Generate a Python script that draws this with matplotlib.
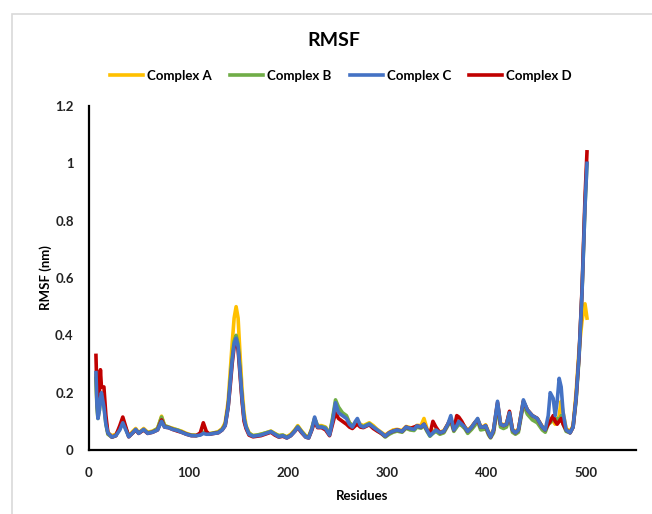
import matplotlib
matplotlib.use("Agg")
import matplotlib.pyplot as plt
from matplotlib.patches import Rectangle

plt.rcParams["font.family"] = ["Lato", "DejaVu Sans"]
plt.rcParams["font.weight"] = "bold"

residues = [7, 8, 9, 10.5, 11.5, 12.5, 15, 17, 19, 23, 27, 31, 34, 37, 40, 44, 47, 50, 55, 59,
            64, 69, 73, 76, 80, 84, 89, 93, 98, 103, 108, 112, 115, 118, 121, 126, 130, 134, 137, 140,
            142, 144, 146, 148, 150, 152, 154, 156, 158, 161, 165, 169, 173, 178, 183, 187, 191, 195, 199, 203,
            207, 210, 214, 218, 221, 224, 227, 230, 234, 238, 242, 245, 248, 251, 255, 259, 262, 265, 268, 270,
            273, 276, 282, 286, 290, 294, 298, 302, 306, 310, 315, 319, 323, 327, 330, 334, 337, 340, 343, 346,
            349, 353, 357, 361, 364, 367, 370, 372, 375, 378, 381, 385, 388, 391, 394, 397, 399, 402, 404, 407,
            411, 414, 417, 420, 423, 426, 429, 432, 435, 437, 441, 446, 451, 456, 459, 462, 464, 467, 469, 471,
            473, 475, 477, 480, 484, 487, 490, 493, 496, 499, 501]

complex_a = [0.26, 0.16, 0.12, 0.15, 0.19, 0.2, 0.17, 0.1, 0.06, 0.05, 0.055, 0.075, 0.105, 0.075, 0.05, 0.065, 0.075, 0.06, 0.075, 0.062,
             0.066, 0.075, 0.118, 0.085, 0.08, 0.076, 0.07, 0.066, 0.058, 0.052, 0.052, 0.055, 0.06, 0.058, 0.057, 0.06, 0.064, 0.075, 0.095, 0.17,
             0.27, 0.37, 0.46, 0.5, 0.46, 0.33, 0.21, 0.13, 0.085, 0.06, 0.05, 0.052, 0.055, 0.06, 0.066, 0.058, 0.05, 0.052, 0.046, 0.055,
             0.07, 0.085, 0.066, 0.05, 0.046, 0.075, 0.11, 0.085, 0.085, 0.08, 0.056, 0.105, 0.16, 0.14, 0.125, 0.115, 0.095, 0.085, 0.095, 0.1,
             0.09, 0.085, 0.095, 0.085, 0.072, 0.062, 0.052, 0.062, 0.07, 0.072, 0.068, 0.082, 0.078, 0.075, 0.086, 0.085, 0.11, 0.075, 0.055, 0.065,
             0.072, 0.062, 0.068, 0.09, 0.11, 0.075, 0.09, 0.1, 0.095, 0.082, 0.068, 0.082, 0.095, 0.108, 0.082, 0.082, 0.088, 0.062, 0.05, 0.072,
             0.16, 0.092, 0.088, 0.092, 0.13, 0.072, 0.065, 0.072, 0.13, 0.17, 0.14, 0.12, 0.11, 0.082, 0.072, 0.1, 0.11, 0.1, 0.09, 0.1,
             0.12, 0.17, 0.13, 0.075, 0.065, 0.085, 0.2, 0.35, 0.45, 0.51, 0.46]

complex_b = [0.25, 0.15, 0.11, 0.14, 0.18, 0.19, 0.16, 0.09, 0.055, 0.045, 0.05, 0.075, 0.105, 0.075, 0.048, 0.06, 0.07, 0.06, 0.07, 0.06,
             0.064, 0.075, 0.115, 0.085, 0.08, 0.074, 0.07, 0.064, 0.056, 0.052, 0.05, 0.054, 0.062, 0.06, 0.056, 0.06, 0.062, 0.072, 0.09, 0.155,
             0.24, 0.32, 0.38, 0.4, 0.37, 0.28, 0.18, 0.11, 0.08, 0.058, 0.05, 0.052, 0.055, 0.06, 0.065, 0.056, 0.05, 0.052, 0.045, 0.052,
             0.068, 0.082, 0.064, 0.048, 0.045, 0.072, 0.11, 0.082, 0.082, 0.078, 0.055, 0.11, 0.175, 0.15, 0.13, 0.12, 0.095, 0.085, 0.09, 0.095,
             0.085, 0.082, 0.092, 0.08, 0.068, 0.058, 0.045, 0.055, 0.062, 0.066, 0.062, 0.076, 0.07, 0.068, 0.08, 0.076, 0.085, 0.065, 0.048, 0.058,
             0.065, 0.055, 0.06, 0.085, 0.1, 0.065, 0.08, 0.09, 0.085, 0.075, 0.058, 0.072, 0.085, 0.1, 0.07, 0.072, 0.078, 0.052, 0.042, 0.06,
             0.15, 0.08, 0.075, 0.08, 0.115, 0.062, 0.055, 0.062, 0.12, 0.16, 0.125, 0.105, 0.095, 0.07, 0.062, 0.09, 0.095, 0.11, 0.1, 0.11,
             0.1, 0.12, 0.09, 0.065, 0.06, 0.08, 0.17, 0.32, 0.55, 0.85, 1.0]

complex_c = [0.27, 0.16, 0.11, 0.14, 0.18, 0.2, 0.15, 0.09, 0.06, 0.045, 0.05, 0.07, 0.095, 0.07, 0.046, 0.06, 0.072, 0.058, 0.072, 0.058,
             0.062, 0.07, 0.1, 0.08, 0.078, 0.072, 0.068, 0.062, 0.055, 0.05, 0.05, 0.052, 0.058, 0.055, 0.055, 0.058, 0.06, 0.07, 0.085, 0.15,
             0.23, 0.31, 0.37, 0.39, 0.36, 0.27, 0.18, 0.11, 0.08, 0.055, 0.048, 0.05, 0.052, 0.058, 0.064, 0.055, 0.046, 0.05, 0.042, 0.05,
             0.065, 0.08, 0.062, 0.045, 0.042, 0.07, 0.115, 0.08, 0.08, 0.075, 0.052, 0.1, 0.165, 0.13, 0.12, 0.11, 0.09, 0.08, 0.1, 0.11,
             0.085, 0.08, 0.09, 0.08, 0.07, 0.06, 0.048, 0.06, 0.066, 0.07, 0.065, 0.08, 0.075, 0.072, 0.084, 0.08, 0.09, 0.07, 0.05, 0.06,
             0.07, 0.06, 0.065, 0.09, 0.12, 0.07, 0.085, 0.1, 0.09, 0.08, 0.065, 0.08, 0.095, 0.11, 0.08, 0.08, 0.085, 0.06, 0.045, 0.07,
             0.17, 0.09, 0.085, 0.09, 0.13, 0.07, 0.06, 0.07, 0.13, 0.175, 0.14, 0.12, 0.11, 0.08, 0.07, 0.12, 0.2, 0.18, 0.12, 0.17,
             0.25, 0.22, 0.13, 0.07, 0.06, 0.08, 0.18, 0.33, 0.55, 0.85, 1.0]

complex_d = [0.33, 0.2, 0.13, 0.2, 0.28, 0.22, 0.22, 0.12, 0.06, 0.045, 0.05, 0.085, 0.115, 0.08, 0.046, 0.06, 0.07, 0.058, 0.07, 0.058,
             0.062, 0.07, 0.105, 0.08, 0.078, 0.072, 0.066, 0.062, 0.055, 0.05, 0.05, 0.06, 0.095, 0.065, 0.055, 0.058, 0.06, 0.07, 0.085, 0.15,
             0.22, 0.3, 0.36, 0.38, 0.35, 0.26, 0.17, 0.1, 0.075, 0.052, 0.046, 0.048, 0.05, 0.056, 0.062, 0.052, 0.045, 0.048, 0.042, 0.05,
             0.065, 0.078, 0.06, 0.045, 0.042, 0.068, 0.1, 0.078, 0.078, 0.07, 0.05, 0.09, 0.13, 0.11, 0.1, 0.09, 0.08, 0.075, 0.085, 0.09,
             0.08, 0.078, 0.088, 0.075, 0.066, 0.058, 0.048, 0.06, 0.066, 0.07, 0.065, 0.08, 0.075, 0.08, 0.084, 0.08, 0.09, 0.07, 0.055, 0.1,
             0.08, 0.06, 0.065, 0.09, 0.11, 0.07, 0.12, 0.115, 0.1, 0.08, 0.065, 0.08, 0.095, 0.105, 0.08, 0.08, 0.085, 0.058, 0.045, 0.068,
             0.165, 0.09, 0.085, 0.09, 0.135, 0.07, 0.06, 0.07, 0.13, 0.17, 0.14, 0.12, 0.11, 0.08, 0.07, 0.09, 0.1, 0.12, 0.1, 0.09,
             0.1, 0.11, 0.09, 0.07, 0.06, 0.08, 0.18, 0.33, 0.56, 0.88, 1.04]

fig = plt.figure(figsize=(6.52, 5.14), dpi=100)
ax = fig.add_axes([0.1365, 0.1245, 0.8385, 0.6693])

la, = ax.plot(residues, complex_a, color="#FFC000", lw=2.6, zorder=2)
lb, = ax.plot(residues, complex_b, color="#70AD47", lw=2.6, zorder=3)
ld, = ax.plot(residues, complex_d, color="#C00000", lw=2.6, zorder=4)
lc, = ax.plot(residues, complex_c, color="#4472C4", lw=2.6, zorder=5)

ax.set_xlim(0, 550)
ax.set_ylim(0, 1.2)
ax.set_xticks([0, 100, 200, 300, 400, 500])
ax.set_yticks([0, 0.2, 0.4, 0.6, 0.8, 1, 1.2])
ax.set_yticklabels(["0", "0.2", "0.4", "0.6", "0.8", "1", "1.2"])
ax.tick_params(length=0, labelsize=9.5, colors="#222222")
ax.tick_params(axis="y", pad=11)
ax.tick_params(axis="x", pad=12)
for side in ["top", "right"]:
    ax.spines[side].set_visible(False)
for side in ["left", "bottom"]:
    ax.spines[side].set_linewidth(1.6)
    ax.spines[side].set_color("black")

ax.set_xlabel("Residues", fontsize=9.5, fontweight="bold", labelpad=8)
ax.set_ylabel("RMSF (nm)", fontsize=9.5, fontweight="bold", labelpad=2)

fig.text(0.512, 0.922, "RMSF", ha="center", va="center", fontsize=14, fontweight="bold")

fig.legend([la, lb, lc, ld], ["Complex A", "Complex B", "Complex C", "Complex D"],
           loc="center", bbox_to_anchor=(0.523, 0.853), ncol=4, frameon=False,
           fontsize=9.5, handlelength=2.5, handletextpad=0.3, columnspacing=1.4)

fig.patches.append(Rectangle((0.0184, -0.1), 1.2, 1.0728, transform=fig.transFigure,
                             fill=False, edgecolor="#d9d9d9", lw=1.2, clip_on=False))

fig.savefig("out.png", dpi=100)
